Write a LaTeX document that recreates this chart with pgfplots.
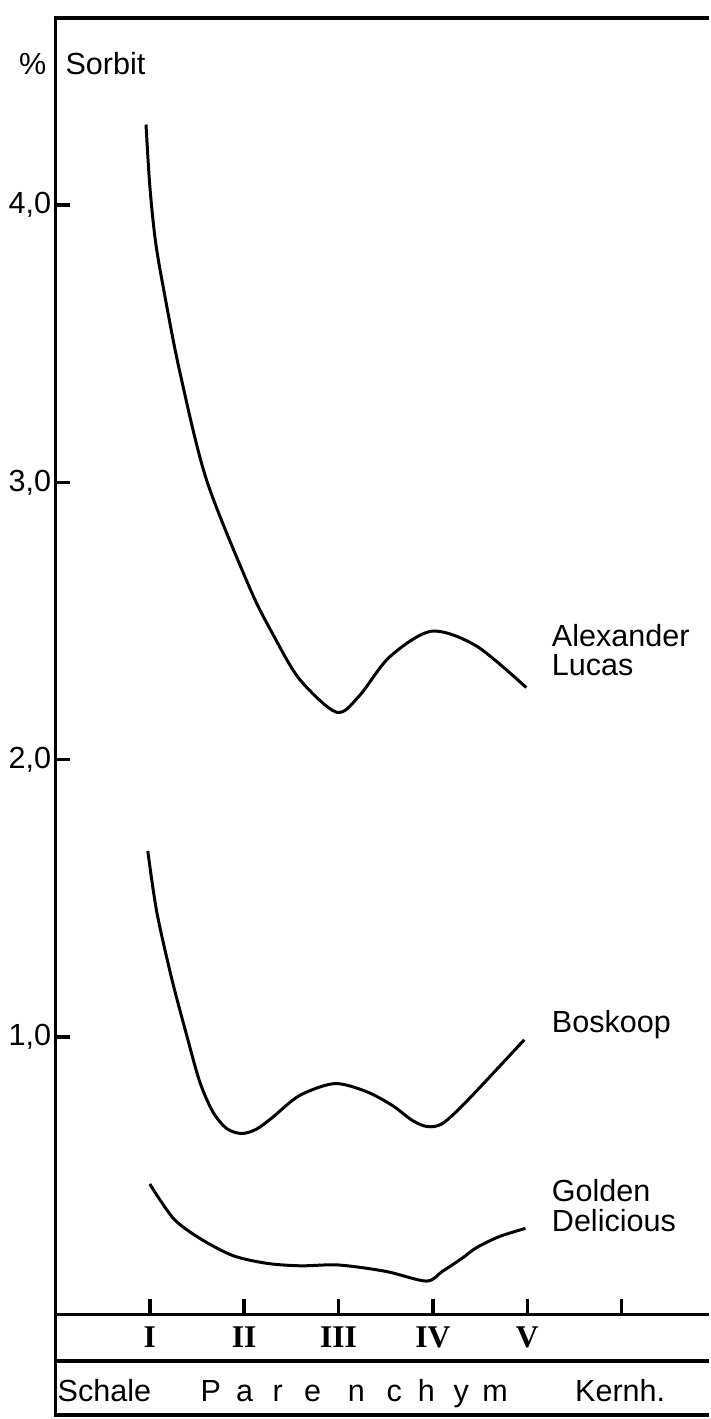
\documentclass[border=0pt]{standalone}
\usepackage{fontspec}
\setmainfont{Liberation Sans}
\newfontfamily\romanfont{Liberation Serif}
\usepackage{pgfplots}
\pgfplotsset{compat=1.18}
\newcommand\lbl{\fontsize{8.7}{8.5}\selectfont}
\begin{document}
\begin{tikzpicture}
\begin{axis}[
 x=9.45mm, y=27.77mm,
 xmin=0, xmax=6.926, ymin=0, ymax=4.674,
 axis lines=left, axis line style={-, line width=1pt},
 clip=false,
 tick align=inside,
 major tick length=1.5mm,
 xtick={1,2,3,4,5,6}, xticklabels={I,II,III,IV,V,{}},
 ytick={1,2,3,4}, yticklabels={{1,0},{2,0},{3,0},{4,0}},
 tick style={line width=1pt, black},
 xticklabel style={font=\romanfont\bfseries\fontsize{9}{9}\selectfont},
 yticklabel style={font=\lbl, inner sep=1pt},
]
% Alexander Lucas
\addplot[smooth, line width=0.85pt, black] coordinates {
(0.96,4.29) (1.0,4.07) (1.06,3.87) (1.15,3.69) (1.317,3.40) (1.6,3.01)
(2.058,2.62) (2.3,2.455) (2.587,2.29) (2.979,2.171) (3.22,2.23) (3.54,2.37)
(3.984,2.463) (4.46,2.41) (4.989,2.26)};
% Boskoop
\addplot[smooth, line width=0.85pt, black] coordinates {
(0.979,1.671) (1.074,1.451) (1.233,1.21) (1.392,1.005) (1.529,0.839) (1.667,0.731)
(1.815,0.670) (1.974,0.652) (2.132,0.668) (2.3,0.71) (2.587,0.789) (2.958,0.832)
(3.296,0.803) (3.571,0.753) (3.783,0.699) (3.942,0.677) (4.1,0.688) (4.354,0.767)
(4.968,0.99)};
% Golden Delicious
\addplot[smooth, line width=0.85pt, black] coordinates {
(1.0,0.47) (1.25,0.346) (1.53,0.274) (1.88,0.212) (2.24,0.184) (2.6,0.175)
(3.0,0.178) (3.5,0.155) (3.93,0.12) (4.1,0.155) (4.3,0.2) (4.46,0.24) (4.70,0.28) (4.98,0.31)};

\node[anchor=east, inner sep=0, font=\lbl] at (axis cs:-0.09,4.51) {\%};
\node[anchor=west, inner sep=0, font=\lbl] at (axis cs:0.10,4.51) {Sorbit};
\node[anchor=west, inner sep=0, align=left, font=\lbl] at (axis cs:5.254,2.395) {Alexander\\Lucas};
\node[anchor=west, inner sep=0, font=\lbl] at (axis cs:5.254,1.044) {Boskoop};
\node[anchor=west, inner sep=0, align=left, font=\lbl] at (axis cs:5.254,0.392) {Golden\\Delicious};

\node[anchor=base, inner sep=0, font=\lbl] at (axis cs:0.519,-0.315) {Schale};
\node[anchor=base, inner sep=0, font=\lbl] at (axis cs:1.646,-0.315) {P};
\node[anchor=base, inner sep=0, font=\lbl] at (axis cs:2.005,-0.315) {a};
\node[anchor=base, inner sep=0, font=\lbl] at (axis cs:2.355,-0.315) {r};
\node[anchor=base, inner sep=0, font=\lbl] at (axis cs:2.725,-0.315) {e};
\node[anchor=base, inner sep=0, font=\lbl] at (axis cs:3.19,-0.315) {n};
\node[anchor=base, inner sep=0, font=\lbl] at (axis cs:3.59,-0.315) {c};
\node[anchor=base, inner sep=0, font=\lbl] at (axis cs:3.93,-0.315) {h};
\node[anchor=base, inner sep=0, font=\lbl] at (axis cs:4.30,-0.315) {y};
\node[anchor=base, inner sep=0, font=\lbl] at (axis cs:4.66,-0.315) {m};
\node[anchor=base, inner sep=0, font=\lbl] at (axis cs:5.984,-0.315) {Kernh.};

\draw[line width=1pt] (axis cs:0,0) -- (axis cs:0,-0.371);
\draw[line width=1pt] (axis cs:0,-0.169) -- (axis cs:6.926,-0.169);
\draw[line width=1pt] (axis cs:0,-0.362) -- (axis cs:6.926,-0.362);
\draw[line width=1pt] (axis cs:-0.02,4.674) -- (axis cs:6.926,4.674);
\path (axis cs:-0.587,-0.371) rectangle (axis cs:6.926,4.739);
\end{axis}
\end{tikzpicture}
\end{document}
